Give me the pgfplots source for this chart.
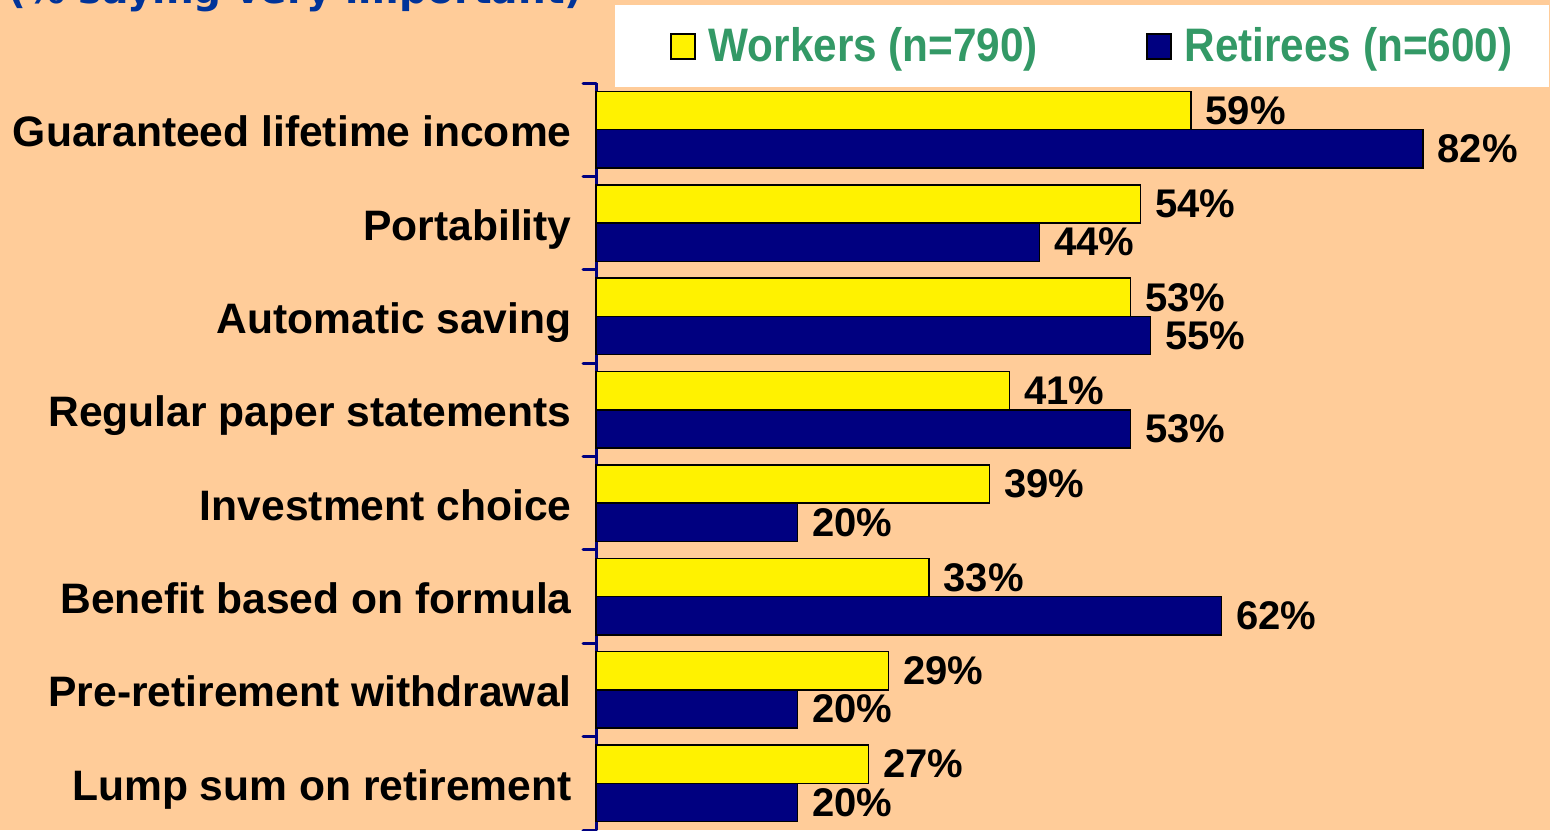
\documentclass[border=0pt]{standalone}
\usepackage{fontspec}
\usepackage{pgfplots}
\pgfplotsset{compat=1.18}
\setmainfont{Liberation Sans}
\newfontfamily\legfont[FakeStretch=0.9]{Liberation Sans}
\newfontfamily\titlefont{DejaVu Sans}
\definecolor{peach}{HTML}{FFCC99}
\definecolor{navybar}{HTML}{000080}
\definecolor{legtext}{HTML}{339966}
\definecolor{titleblue}{HTML}{003399}
\begin{document}
\begin{tikzpicture}
\path[use as bounding box] (0,0) rectangle (775pt,415pt);
\clip (0,0) rectangle (775pt,415pt);
\fill[peach] (0,0) rectangle (775pt,415pt);
\fill[white] (307.5pt,371.5pt) rectangle (774.5pt,412.5pt);
\node[anchor=base west, inner sep=0pt, text=titleblue, font=\titlefont\bfseries\fontsize{19.5}{20}\selectfont] at (4pt,413pt) {(\% saying very important)};
\begin{axis}[
  at={(298pt,0pt)}, anchor=south west,
  scale only axis, width=477pt, height=373.5pt,
  xbar, bar width=0.41,
  xmin=0, xmax=94.6,
  ymin=-0.5, ymax=7.5, y dir=reverse,
  axis y line*=left, axis x line=none,
  y axis line style={draw=navybar, line width=1.5pt, -},
  ytick={0,...,7},
  yticklabels={Guaranteed lifetime income, Portability, Automatic saving, Regular paper statements, Investment choice, Benefit based on formula, Pre-retirement withdrawal, Lump sum on retirement},
  minor ytick={-0.5,0.5,...,7.5},
  major tick length=0pt, minor tick length=6.5pt,
  tick align=outside,
  minor tick style={draw=navybar, line width=1.5pt, line cap=round},
  major tick style={draw=none},
  yticklabel style={font=\bfseries\fontsize{21.3}{22}\selectfont, inner sep=0pt, anchor=base east, xshift=-12pt, yshift=-8.5pt, text=black},
  clip=false,
  /pgf/number format/assume math mode=true,
  point meta=x,
  nodes near coords={\pgfmathprintnumber{\pgfplotspointmeta}\%},
  every node near coord/.append style={font=\bfseries\fontsize{20}{20}\selectfont, anchor=west, inner sep=0pt, xshift=7pt, text=black},
  legend columns=2,
  legend style={draw=none, fill=none, inner sep=0pt, outer sep=0pt,
    at={(0.0776,1.0495)}, anchor=west,
    font=\legfont\bfseries\fontsize{23.5}{23.5}\selectfont, text=legtext,
    nodes={inner sep=0pt},
    /tikz/every odd column/.append style={column sep=6.5pt},
    /tikz/every even column/.append style={column sep=54pt}},
  legend image code/.code={\draw[#1, line width=0.75pt] (0pt,-6.5pt) rectangle (12pt,6pt);},
]
\addplot[fill=yellow, draw=black, line width=0.75pt, bar shift=-0.205]
  coordinates {(59,0) (54,1) (53,2) (41,3) (39,4) (33,5) (29,6) (27,7)};
\addlegendentry{Workers (n=790)}
\addplot[fill=navybar, draw=black, line width=0.75pt, bar shift=0.205]
  coordinates {(82,0) (44,1) (55,2) (53,3) (20,4) (62,5) (20,6) (20,7)};
\addlegendentry{Retirees (n=600)}
\end{axis}
\end{tikzpicture}
\end{document}
